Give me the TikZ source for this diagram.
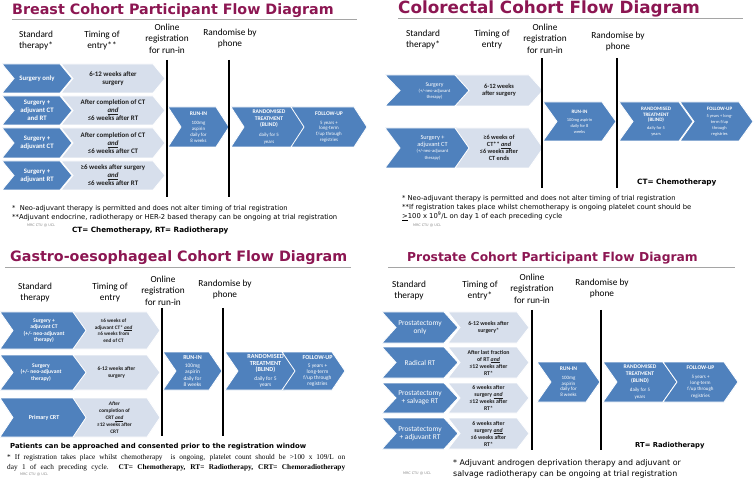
\documentclass[tikz,border=0pt]{standalone}
\usepackage{fontspec}
\setmainfont{Carlito}
\newfontfamily\vf{DejaVu Sans}
\newfontfamily\tnr{Liberation Serif}
\definecolor{dblue}{RGB}{79,129,189}
\definecolor{lblue}{RGB}{215,223,236}
\definecolor{ttlred}{RGB}{140,22,82}
\definecolor{ulgray}{RGB}{165,165,165}
\newcommand\fs[2]{\fontsize{#1}{#2}\selectfont}
\newcommand\hd[2]{{\bfseries\fontsize{#1}{#1}\selectfont #2}}
\newcommand\andu{\underline{\textit{and}}}
\newcommand\chev[9]{%
  \path[#7] (#2,#4) -- ({#3-#6},#4) -- (#3,{(#4+#5)/2}) -- ({#3-#6},#5) -- (#2,#5) -- ({#2+#6},{(#4+#5)/2}) -- cycle;
  \node[#8] (#1) at ({(#2+#3)/2},{(#4+#5)/2}) {#9};}
\begin{document}
\begin{tikzpicture}[x=1pt,y=-1pt,
  dk/.style={fill=dblue,draw=white,line width=0.8pt},
  lt/.style={fill=lblue,draw=white,line width=0.8pt},
  dtxt/.style={text=white,align=center,inner sep=0pt},
  ltxt/.style={text=black!88,align=center,inner sep=0pt},
  hdr/.style={font=\fs{9.3}{11.5},align=center,inner sep=0pt},
  ttl/.style={anchor=base west,text=ttlred,inner sep=0pt},
  ul/.style={draw=ulgray,line width=0.9pt},
  vl/.style={line width=1.8pt},
  fn/.style={anchor=west,inner sep=0pt},
  mrc/.style={anchor=west,inner sep=0pt,text=black!45,font=\vf\fs{3.4}{4}}]
\useasboundingbox (0,0) rectangle (755,478);
\fill[white] (0,0) rectangle (755,478);

%================ BREAST =================
\node[ttl,font=\vf\bfseries\fs{14.3}{16}] (bt) at (12,15) {Breast Cohort Participant Flow Diagram};
\draw[ul] (12,19) -- (357,19);
\node[hdr] (bh1) at (36,40.5) {Standard\\therapy*};
\node[hdr] (bh2) at (102,40.5) {Timing of\\entry**};
\node[hdr] (bh3) at (167,38.5) {Online\\registration\\for run-in};
\node[hdr] (bh4) at (230,38.5) {Randomise by\\phone};

\chev{b1s}{2}{72}{64}{93}{12}{dk}{dtxt,font=\bfseries\fs{6.8}{8}}{Surgery only}
\chev{b1t}{61}{165}{64}{93}{12}{lt}{ltxt,font=\bfseries\fs{6.9}{8}}{6-12 weeks after\\surgery}
\chev{b2s}{2}{72}{96}{125}{12}{dk}{dtxt,font=\bfseries\fs{6.8}{8}}{Surgery +\\adjuvant CT\\and RT}
\chev{b2t}{61}{165}{96}{125}{12}{lt}{ltxt,font=\bfseries\fs{6.9}{8}}{After completion of CT\\\andu\\≤6 weeks after RT}
\chev{b3s}{2}{72}{128}{158}{12}{dk}{dtxt,font=\bfseries\fs{6.8}{8}}{Surgery +\\adjuvant CT}
\chev{b3t}{61}{165}{128}{158}{12}{lt}{ltxt,font=\bfseries\fs{6.9}{8}}{After completion of CT\\\andu\\≤6 weeks after CT}
\chev{b4s}{2}{72}{161}{190}{12}{dk}{dtxt,font=\bfseries\fs{6.8}{8}}{Surgery +\\adjuvant RT}
\chev{b4t}{61}{165}{161}{190}{12}{lt}{ltxt,font=\bfseries\fs{6.9}{8}}{≥6 weeks after surgery\\\andu\\≤6 weeks after RT}

\chev{brun}{168}{229}{107}{147}{13}{dk}{dtxt,font=\fs{4.9}{6}}{\hd{5.6}{RUN-IN}\\[2.5pt]100mg\\aspirin\\daily for\\8 weeks}
\chev{brnd}{231}{307}{107}{147}{13}{dk}{dtxt,font=\fs{4.9}{6.6}}{\hd{5.6}{RANDOMISED}\\\hd{5.6}{TREATMENT}\\\hd{5.6}{(BLIND)}\\[3pt]daily for 5\\years}
\chev{bfu}{291}{367}{107}{147}{13}{dk}{dtxt,font=\fs{4.9}{5.8}}{\hd{5.6}{FOLLOW-UP}\\[3pt]5 years +\\long-term\\f/up through\\registries}
\draw[vl] (167,60) -- (167,197);
\draw[vl] (229,60) -- (229,197);

\node[fn,font=\vf\fs{6.7}{8}] (bf1) at (12,209) {*\ \ Neo-adjuvant therapy is permitted and does not alter timing of trial registration};
\node[fn,font=\vf\fs{6.8}{8}] (bf2) at (12,218) {**Adjuvant endocrine, radiotherapy or HER-2 based therapy can be ongoing at trial registration};
\node[mrc] (bm) at (27,226) {MRC CTU @ UCL};
\node[fn,font=\vf\bfseries\fs{7.2}{8}] (bab) at (72,231) {CT= Chemotherapy, RT= Radiotherapy};

%================ COLORECTAL =================
\node[ttl,font=\vf\bfseries\fs{16.8}{18}] (ct) at (398,14) {Colorectal Cohort Flow Diagram};
\draw[ul] (398,18) -- (743,18);
\node[hdr] (ch1) at (423,39.5) {Standard\\therapy*};
\node[hdr] (ch2) at (492,39.5) {Timing of\\entry};
\node[hdr] (ch3) at (545,38.5) {Online\\registration\\for run-in};
\node[hdr] (ch4) at (618,41.5) {Randomise by\\phone};

\chev{c1s}{385}{472}{75}{106}{15}{dk}{dtxt,xshift=6pt,font=\fs{5.8}{6}}{Surgery\\{\fs{4.6}{5.5}(+/-neo-adjuvant}\\{\fs{4.6}{5.5}therapy)}}
\chev{c1t}{455}{543}{75}{106}{14}{lt}{ltxt,font=\bfseries\fs{6.4}{7.2}}{6-12 weeks\\after surgery}
\chev{c2s}{385}{472}{128}{168}{15}{dk}{dtxt,xshift=4pt,font=\fs{6.3}{6.5}}{Surgery +\\adjuvant CT\\{\fs{4.6}{5.8}(+/-neo-adjuvant}\\{\fs{4.6}{5.8}therapy)}}
\chev{c2t}{455}{543}{128}{168}{14}{lt}{ltxt,font=\bfseries\fs{6.3}{6.8}}{≥6 weeks of\\CT** \andu\\≤6 weeks after\\CT ends}

\chev{crun}{543}{616}{102}{141}{14}{dk}{dtxt,font=\fs{4.4}{6}}{\hd{5.1}{RUN-IN}\\[2pt]100mg aspirin\\daily for 8\\weeks}
\chev{crnd}{619}{693}{102}{141}{14}{dk}{dtxt,font=\fs{4.4}{5.6}}{\hd{5.1}{RANDOMISED}\\\hd{5.1}{TREATMENT}\\\hd{5.1}{(BLIND)}\\[2pt]daily for 5\\years}
\chev{cfu}{680}{753}{102}{141}{14}{dk}{dtxt,xshift=3pt,font=\fs{4.4}{6}}{\hd{5.1}{FOLLOW-UP}\\[1pt]5 years + long-\\term f/up\\through\\registries}
\draw[vl] (542,58) -- (542,188);
\draw[vl] (617,58) -- (617,188);

\node[fn,font=\vf\bfseries\fs{7.3}{8}] (cab) at (637,183) {CT= Chemotherapy};
\node[fn,font=\vf\fs{6.7}{8}] (cf1) at (402,199) {* Neo-adjuvant therapy is permitted and does not alter timing of trial registration};
\node[fn,font=\vf\fs{6.8}{8}] (cf2) at (402,208) {**If registration takes place whilst chemotherapy is ongoing platelet count should be};
\node[fn,font=\vf\fs{6.8}{8}] (cf3) at (402,216.5) {\underline{>}100 x 10\textsuperscript{9}/L on day 1 of each preceding cycle};
\node[mrc] (cm) at (413,226) {MRC CTU @ UCL};

%================ GASTRO =================
\node[ttl,font=\vf\bfseries\fs{14.3}{16}] (gt) at (10,262) {Gastro-oesophageal Cohort Flow Diagram};
\draw[ul] (5,267) -- (351,267);
\node[hdr] (gh1) at (35,292.5) {Standard\\therapy};
\node[hdr] (gh2) at (110,292.5) {Timing of\\entry};
\node[hdr] (gh3) at (163,290.5) {Online\\registration\\for run-in};
\node[hdr] (gh4) at (225,289.5) {Randomise by\\phone};

\chev{g1s}{0}{88}{312}{349}{13}{dk}{dtxt,font=\bfseries\fs{5.6}{6.3}}{Surgery +\\adjuvant CT\\(+/- neo-adjuvant\\therapy)}
\chev{g1t}{73}{160}{312}{349}{13}{lt}{ltxt,xshift=-3pt,font=\bfseries\fs{5.2}{6.6}}{≥6 weeks of\\adjuvant CT* \andu\\≤6 weeks from\\end of CT}
\chev{g2s}{0}{88}{355}{390}{13}{dk}{dtxt,xshift=-3pt,font=\bfseries\fs{5.6}{6.5}}{Surgery\\(+/- neo-adjuvant\\therapy)}
\chev{g2t}{73}{160}{355}{390}{13}{lt}{ltxt,font=\bfseries\fs{5.5}{7}}{6-12 weeks after\\surgery}
\chev{g3s}{0}{88}{398}{437}{13}{dk}{dtxt,font=\bfseries\fs{6}{7}}{Primary CRT}
\chev{g3t}{73}{160}{398}{437}{13}{lt}{ltxt,xshift=-2pt,font=\bfseries\fs{5.3}{7}}{\textit{After}\\completion of\\CRT \andu\\≤12 weeks after\\CRT}

\chev{grun}{163}{222}{352}{390}{13}{dk}{dtxt,font=\fs{5.4}{6.3}}{\hd{6}{RUN-IN}\\[2pt]100mg\\aspirin\\daily for\\8 weeks}
\chev{grnd}{225}{298}{352}{390}{13}{dk}{dtxt,xshift=4pt,font=\fs{5.5}{6.8}}{\hd{6.2}{RANDOMISED}\\\hd{6.2}{TREATMENT}\\\hd{6.2}{(BLIND)}\\[1.5pt]daily for 5\\years}
\chev{gfu}{282}{345}{352}{390}{13}{dk}{dtxt,xshift=4pt,font=\fs{5.4}{6.2}}{\hd{6}{FOLLOW-UP}\\[2pt]5 years +\\long-term\\f/up through\\registries}
\draw[vl] (162,308) -- (162,436);
\draw[vl] (223,308) -- (223,436);

\node[fn,font=\vf\bfseries\fs{6.9}{8}] (gp) at (10,447) {Patients can be approached and consented prior to the registration window};
\node[fn,font=\tnr\fs{7.3}{8}] (gf1) at (7,458) {\makebox[338pt][s]{* If registration takes place whilst chemotherapy\ \ is ongoing, platelet count should be >100 x 109/L on}};
\node[fn,font=\tnr\fs{7.3}{8}] (gf2) at (7,467.5) {\makebox[338pt][s]{day 1 of each preceding cycle. \textbf{CT= Chemotherapy, RT= Radiotherapy, CRT= Chemoradiotherapy}}};
\node[mrc] (gm) at (20,475) {MRC CTU @ UCL};

%================ PROSTATE =================
\node[ttl,font=\vf\bfseries\fs{12.3}{14}] (pt) at (407,262) {Prostate Cohort Participant Flow Diagram};
\draw[ul] (388,267) -- (735,267);
\node[hdr] (ph1) at (409,290.5) {Standard\\therapy};
\node[hdr] (ph2) at (480,290.5) {Timing of\\entry*};
\node[hdr] (ph3) at (532,288.5) {Online\\registration\\for run-in};
\node[hdr] (ph4) at (602,288.5) {Randomise by\\phone};

\chev{p1s}{382}{458}{312}{343}{14}{dk}{dtxt,font=\fs{7.4}{8}}{Prostatectomy\\only}
\chev{p1t}{448}{529}{312}{343}{12}{lt}{ltxt,font=\bfseries\fs{5.9}{7}}{6-12 weeks after\\surgery*}
\chev{p2s}{382}{458}{347}{378}{14}{dk}{dtxt,font=\fs{7.4}{8}}{Radical RT}
\chev{p2t}{448}{529}{347}{378}{12}{lt}{ltxt,font=\bfseries\fs{5.8}{7}}{After last fraction\\of RT \andu\\≤12 weeks after\\RT*}
\chev{p3s}{382}{458}{383}{413}{14}{dk}{dtxt,font=\fs{7.4}{8}}{Prostatectomy\\+ salvage RT}
\chev{p3t}{448}{529}{383}{413}{12}{lt}{ltxt,font=\bfseries\fs{5.8}{7}}{6 weeks after\\surgery \andu\\≤12 weeks after\\RT*}
\chev{p4s}{382}{458}{418}{449}{14}{dk}{dtxt,font=\fs{7.4}{8}}{Prostatectomy\\+ adjuvant RT}
\chev{p4t}{448}{529}{418}{449}{12}{lt}{ltxt,font=\bfseries\fs{5.8}{7}}{6 weeks after\\surgery \andu\\≤6 weeks after\\RT*}

\chev{prun}{537}{600}{362}{402}{14}{dk}{dtxt,font=\fs{5}{5.9}}{\hd{5.6}{RUN-IN}\\[2.5pt]100mg\\aspirin\\daily for\\8 weeks}
\chev{prnd}{603}{677}{362}{402}{14}{dk}{dtxt,font=\fs{5}{6.8}}{\hd{5.6}{RANDOMISED}\\\hd{5.6}{TREATMENT}\\\hd{5.6}{(BLIND)}\\[2pt]daily for 5\\years}
\chev{pfu}{663}{738}{362}{402}{14}{dk}{dtxt,font=\fs{5}{6.3}}{\hd{5.6}{FOLLOW-UP}\\[2.5pt]5 years +\\long-term\\f/up through\\registries}
\draw[vl] (532,310) -- (532,450);
\draw[vl] (601,310) -- (601,450);

\node[fn,font=\vf\bfseries\fs{6.8}{8}] (pab) at (635,446) {RT= Radiotherapy};
\node[fn,font=\vf\fs{7.9}{9}] (pf1) at (453,463) {* Adjuvant androgen deprivation therapy and adjuvant or};
\node[fn,font=\vf\fs{7.9}{9}] (pf2) at (453,474) {salvage radiotherapy can be ongoing at trial registration};
\node[mrc] (pm) at (403,474) {MRC CTU @ UCL};
\end{tikzpicture}
\end{document}
